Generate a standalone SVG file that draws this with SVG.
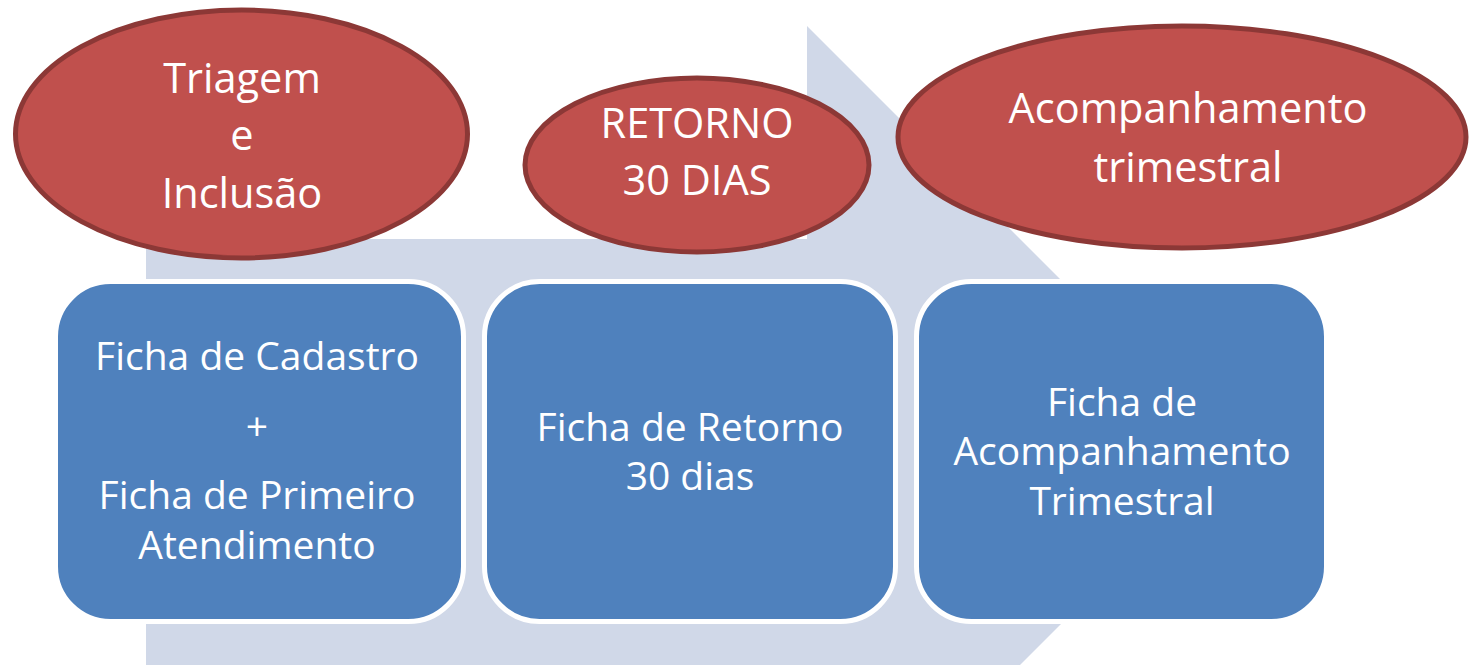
<svg xmlns="http://www.w3.org/2000/svg" width="1469" height="665" viewBox="0 0 1469 665">
<style>
.oval{fill:#C0504D;stroke:#8C3836;stroke-width:5}
.box{fill:#4F81BD;stroke:#FFFFFF;stroke-width:5}
.t{font-family:"Open Sans","Liberation Sans",sans-serif;font-size:39px;fill:#FFFFFF;text-anchor:middle}
.to{font-family:"Open Sans","Liberation Sans",sans-serif;font-size:41.5px;fill:#FFFFFF;text-anchor:middle}
</style>
<rect x="0" y="0" width="1469" height="665" fill="#FFFFFF"/>
<g id="connectors">
<polygon id="arrow" points="146,239 807,239 807,26 1233,452 807,878 807,665 146,665" fill="#D0D8E8"/>
</g>
<g id="oval1">
<ellipse class="oval" cx="241.5" cy="134" rx="226" ry="124"/>
<text class="to" x="242" y="93">Triagem</text>
<text class="to" x="242" y="150">e</text>
<text class="to" x="242" y="208">Inclusão</text>
</g>
<g id="oval2">
<ellipse class="oval" cx="697" cy="165" rx="172" ry="87"/>
<text class="to" x="697" y="138">RETORNO</text>
<text class="to" x="697" y="195">30 DIAS</text>
</g>
<g id="oval3">
<ellipse class="oval" cx="1182" cy="137" rx="284" ry="111"/>
<text class="to" x="1188" y="123">Acompanhamento</text>
<text class="to" x="1188" y="182">trimestral</text>
</g>
<g id="box1">
<rect class="box" x="55.5" y="281.5" width="408" height="340" rx="55"/>
<text class="t" x="257" y="370">Ficha de Cadastro</text>
<text class="t" x="257" y="440">+</text>
<text class="t" x="257" y="509">Ficha de Primeiro</text>
<text class="t" x="257" y="559">Atendimento</text>
</g>
<g id="box2">
<rect class="box" x="484.5" y="281.5" width="411" height="340" rx="55"/>
<text class="t" x="690" y="441">Ficha de Retorno</text>
<text class="t" x="690" y="490">30 dias</text>
</g>
<g id="box3">
<rect class="box" x="916.5" y="281.5" width="410" height="340" rx="55"/>
<text class="t" x="1122" y="416">Ficha de</text>
<text class="t" x="1122" y="465">Acompanhamento</text>
<text class="t" x="1122" y="515">Trimestral</text>
</g>
</svg>
